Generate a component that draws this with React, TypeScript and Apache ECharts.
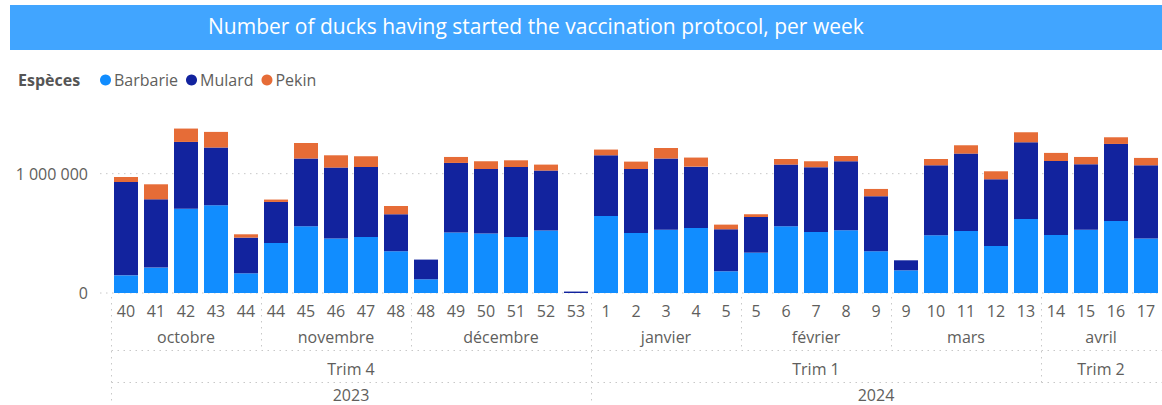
import React, { useEffect, useRef } from "react";
import * as echarts from "echarts";

const weeks = ["40","41","42","43","44","44","45","46","47","48","48","49","50","51","52","53","1","2","3","4","5","5","6","7","8","9","9","10","11","12","13","14","15","16","17"];
const barbarie = [148,213,707,735,165,419,559,456,469,350,115,506,498,469,523,0,645,503,531,545,182,338,559,511,526,350,190,484,520,394,620,486,531,604,456].map(v => v * 1000);
const mulard = [782,572,559,484,299,344,568,595,587,310,165,584,541,587,503,12,509,536,596,514,352,299,517,543,578,461,84,586,648,559,643,620,548,645,614].map(v => v * 1000);
const pekin = [42,126,112,131,28,20,130,103,90,69,0,50,65,56,50,0,48,62,88,76,39,23,47,50,44,61,0,53,70,67,84,68,61,56,62].map(v => v * 1000);

const monthLabels = ["octobre","novembre","décembre","janvier","février","mars","avril"];
const monthCounts = [5,5,6,5,5,5,4];
const quarterLabels = ["Trim 4","Trim 1","Trim 2"];
const quarterCounts = [16,15,4];
const yearLabels = ["2023","2024"];
const yearCounts = [16,19];
const yTicks = [0, 1000000];
const yTickLabels = ["0", "1 000 000"];

const TITLE = "Number of ducks having started the vaccination protocol, per week";
const FONT = "'Open Sans', 'Noto Sans', sans-serif";
const GREY = "#605E5C";
const DOT = "#C8C8C8";

function boundaries(counts: number[]) {
  const out: number[] = [];
  let s = 0;
  counts.forEach(c => { out.push(s); s += c; });
  return out;
}

export default function App() {
  const ref = useRef<HTMLDivElement>(null);
  useEffect(() => {
    if (!ref.current) return;
    const chart = echarts.init(ref.current, null, { renderer: "svg" });
    chart.setOption({
      animation: false,
      textStyle: { fontFamily: FONT },
      legend: {
        left: 95,
        top: 67,
        icon: "circle",
        itemWidth: 11,
        itemHeight: 11,
        itemGap: 8,
        textStyle: { color: GREY, fontSize: 16, fontFamily: FONT, padding: [0, 0, 0, -2] },
        data: ["Barbarie", "Mulard", "Pekin"],
      },
      grid: { left: 111, right: 1, top: 114, bottom: 112, containLabel: false },
      xAxis: {
        type: "category",
        data: weeks,
        axisLine: { show: false },
        axisTick: { show: false },
        axisLabel: { interval: 0, color: GREY, fontSize: 16, fontFamily: FONT, margin: 10 },
      },
      yAxis: {
        type: "value",
        min: 0,
        max: 1500000,
        interval: 500000,
        axisLine: { show: false },
        axisTick: { show: false },
        splitLine: { show: false },
        axisLabel: {
          color: GREY,
          fontSize: 16,
          fontFamily: FONT,
          margin: 23,
          formatter: (v: number) => {
            const i = yTicks.indexOf(v);
            return i >= 0 ? yTickLabels[i] : "";
          },
        },
      },
      series: [
        { name: "Barbarie", type: "bar", stack: "s", data: barbarie, barWidth: 24, itemStyle: { color: "#118DFF" } },
        { name: "Mulard", type: "bar", stack: "s", data: mulard, barWidth: 24, itemStyle: { color: "#12239E" } },
        { name: "Pekin", type: "bar", stack: "s", data: pekin, barWidth: 24, itemStyle: { color: "#E66C37" } },
      ],
    });

    const px = weeks.map((_, i) => chart.convertToPixel({ xAxisIndex: 0 }, i) as number);
    const step = px[1] - px[0];
    const edge = (i: number) => (i === 0 ? px[0] - step / 2 : (px[i - 1] + px[i]) / 2);
    const y0 = chart.convertToPixel({ yAxisIndex: 0 }, 0) as number;
    const yGrid = yTicks.map(v => chart.convertToPixel({ yAxisIndex: 0 }, v) as number);
    const H = 405;
    const W = 1162;
    const monthY = y0 + 44;
    const sep1 = y0 + 57.5;
    const trimY = y0 + 75.5;
    const sep2 = y0 + 89.5;
    const yearY = y0 + 102;
    const lineTop = y0 + 4;
    const dotted = { stroke: DOT, lineWidth: 1, lineDash: [1.5, 4.5] };

    const els: any[] = [];
    els.push({ type: "rect", shape: { x: 10, y: 5, width: W - 10, height: 45 }, style: { fill: "#41A5FF" }, z: 0 });
    els.push({ type: "text", x: 208, y: 26, style: { text: TITLE, fill: "#FFFFFF", fontSize: 21, fontFamily: FONT, align: "left", verticalAlign: "middle" }, z: 1 });
    els.push({ type: "text", x: 18, y: 80, style: { text: "Espèces", fill: "#555555", fontSize: 16, fontWeight: "bold", fontFamily: FONT, align: "left", verticalAlign: "middle" }, z: 1 });

    yGrid.forEach(y => {
      els.push({ type: "line", shape: { x1: 100, y1: y, x2: W, y2: y }, style: dotted, z: 0 });
    });

    const addGroups = (labels: string[], counts: number[], y: number) => {
      const starts = boundaries(counts);
      labels.forEach((lab, k) => {
        const a = starts[k];
        const b = a + counts[k] - 1;
        const cx = (px[a] + px[b]) / 2;
        els.push({ type: "text", x: cx, y, style: { text: lab, fill: GREY, fontSize: 16, fontFamily: FONT, align: "center", verticalAlign: "middle" }, z: 1 });
      });
    };
    addGroups(monthLabels, monthCounts, monthY);
    addGroups(quarterLabels, quarterCounts, trimY);
    addGroups(yearLabels, yearCounts, yearY);

    const mB = boundaries(monthCounts);
    const qB = boundaries(quarterCounts);
    const yB = boundaries(yearCounts);
    mB.forEach(i => {
      let bottom = sep1;
      if (qB.includes(i)) bottom = sep2;
      if (yB.includes(i)) bottom = H;
      const x = Math.round(edge(i)) + 0.5;
      els.push({ type: "line", shape: { x1: x, y1: lineTop, x2: x, y2: bottom }, style: dotted, z: 0 });
    });
    const leftX = Math.round(edge(0)) + 0.5;
    [sep1, sep2].forEach(y => {
      els.push({ type: "line", shape: { x1: leftX, y1: y, x2: W, y2: y }, style: dotted, z: 0 });
    });

    chart.setOption({ graphic: { elements: els } });
    return () => chart.dispose();
  }, []);
  return <div ref={ref} style={{ position: "fixed", left: 0, top: 0, width: 1162, height: 405, background: "#fff" }} />;
}
